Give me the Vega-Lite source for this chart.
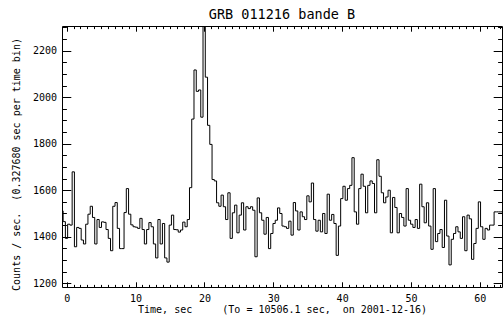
{
  "$schema": "https://vega.github.io/schema/vega-lite/v6.json",
  "autosize": "none",
  "width": 440,
  "height": 261,
  "padding": {"left": 62, "top": 26, "right": 1, "bottom": 38},
  "background": "white",
  "config": {
    "view": {"stroke": "black", "strokeWidth": 1},
    "axis": {"grid": false, "domain": false, "labelColor": "black", "titleColor": "black", "tickColor": "black", "labelFont": "DejaVu Sans Mono", "titleFont": "DejaVu Sans Mono", "labelFontSize": 10, "titleFontSize": 10, "titleFontWeight": "normal", "labelFlush": false, "labelOverlap": false, "format": "d"}
  },
  "title": {"text": "GRB 011216 bande B", "font": "DejaVu Sans Mono", "fontSize": 13.5, "fontWeight": "normal", "color": "black", "baseline": "alphabetic", "offset": -7, "anchor": "middle", "frame": "group"},
  "datasets": {
    "lc": [
      {"t": -0.680, "c": 1511}, {"t": -0.352, "c": 1465}, {"t": -0.025, "c": 1393}, {"t": 0.303, "c": 1454}, {"t": 0.631, "c": 1450},
      {"t": 0.958, "c": 1679}, {"t": 1.286, "c": 1357}, {"t": 1.614, "c": 1440}, {"t": 1.941, "c": 1436}, {"t": 2.269, "c": 1386},
      {"t": 2.597, "c": 1369}, {"t": 2.924, "c": 1454}, {"t": 3.252, "c": 1497}, {"t": 3.580, "c": 1531}, {"t": 3.908, "c": 1483},
      {"t": 4.235, "c": 1369}, {"t": 4.563, "c": 1474}, {"t": 4.891, "c": 1440}, {"t": 5.218, "c": 1464}, {"t": 5.546, "c": 1462},
      {"t": 5.874, "c": 1431}, {"t": 6.201, "c": 1393}, {"t": 6.529, "c": 1340}, {"t": 6.857, "c": 1531}, {"t": 7.184, "c": 1547},
      {"t": 7.512, "c": 1436}, {"t": 7.840, "c": 1349}, {"t": 8.167, "c": 1349}, {"t": 8.495, "c": 1504}, {"t": 8.823, "c": 1607},
      {"t": 9.150, "c": 1497}, {"t": 9.478, "c": 1451}, {"t": 9.806, "c": 1443}, {"t": 10.133, "c": 1441}, {"t": 10.461, "c": 1436},
      {"t": 10.789, "c": 1479}, {"t": 11.116, "c": 1431}, {"t": 11.444, "c": 1369}, {"t": 11.772, "c": 1431}, {"t": 12.100, "c": 1461},
      {"t": 12.427, "c": 1443}, {"t": 12.755, "c": 1369}, {"t": 13.083, "c": 1309}, {"t": 13.410, "c": 1474}, {"t": 13.738, "c": 1369},
      {"t": 14.066, "c": 1457}, {"t": 14.393, "c": 1309}, {"t": 14.721, "c": 1291}, {"t": 15.049, "c": 1450}, {"t": 15.376, "c": 1493},
      {"t": 15.704, "c": 1431}, {"t": 16.032, "c": 1430}, {"t": 16.359, "c": 1420}, {"t": 16.687, "c": 1429}, {"t": 17.015, "c": 1463},
      {"t": 17.342, "c": 1443}, {"t": 17.670, "c": 1474}, {"t": 17.998, "c": 1611}, {"t": 18.325, "c": 1906}, {"t": 18.653, "c": 2117},
      {"t": 18.981, "c": 2025}, {"t": 19.308, "c": 2031}, {"t": 19.636, "c": 1914}, {"t": 19.964, "c": 2306}, {"t": 20.292, "c": 2086},
      {"t": 20.619, "c": 1879}, {"t": 20.947, "c": 1797}, {"t": 21.275, "c": 1646}, {"t": 21.602, "c": 1640}, {"t": 21.930, "c": 1546},
      {"t": 22.258, "c": 1531}, {"t": 22.585, "c": 1579}, {"t": 22.913, "c": 1529}, {"t": 23.241, "c": 1474}, {"t": 23.568, "c": 1589},
      {"t": 23.896, "c": 1393}, {"t": 24.224, "c": 1503}, {"t": 24.551, "c": 1536}, {"t": 24.879, "c": 1417}, {"t": 25.207, "c": 1493},
      {"t": 25.534, "c": 1546}, {"t": 25.862, "c": 1429}, {"t": 26.190, "c": 1529}, {"t": 26.517, "c": 1521}, {"t": 26.845, "c": 1529},
      {"t": 27.173, "c": 1514}, {"t": 27.500, "c": 1314}, {"t": 27.828, "c": 1567}, {"t": 28.156, "c": 1503}, {"t": 28.484, "c": 1471},
      {"t": 28.811, "c": 1411}, {"t": 29.139, "c": 1483}, {"t": 29.467, "c": 1349}, {"t": 29.794, "c": 1414}, {"t": 30.122, "c": 1457},
      {"t": 30.450, "c": 1471}, {"t": 30.777, "c": 1524}, {"t": 31.105, "c": 1500}, {"t": 31.433, "c": 1446}, {"t": 31.760, "c": 1443},
      {"t": 32.088, "c": 1436}, {"t": 32.416, "c": 1467}, {"t": 32.743, "c": 1407}, {"t": 33.071, "c": 1547}, {"t": 33.399, "c": 1511},
      {"t": 33.726, "c": 1429}, {"t": 34.054, "c": 1507}, {"t": 34.382, "c": 1486}, {"t": 34.709, "c": 1474}, {"t": 35.037, "c": 1576},
      {"t": 35.365, "c": 1550}, {"t": 35.692, "c": 1631}, {"t": 36.020, "c": 1474}, {"t": 36.348, "c": 1424}, {"t": 36.676, "c": 1471},
      {"t": 37.003, "c": 1421}, {"t": 37.331, "c": 1500}, {"t": 37.659, "c": 1414}, {"t": 37.986, "c": 1583}, {"t": 38.314, "c": 1471},
      {"t": 38.642, "c": 1496}, {"t": 38.969, "c": 1457}, {"t": 39.297, "c": 1320}, {"t": 39.625, "c": 1446}, {"t": 39.952, "c": 1564},
      {"t": 40.280, "c": 1617}, {"t": 40.608, "c": 1557}, {"t": 40.935, "c": 1607}, {"t": 41.263, "c": 1621}, {"t": 41.591, "c": 1740},
      {"t": 41.918, "c": 1507}, {"t": 42.246, "c": 1454}, {"t": 42.574, "c": 1607}, {"t": 42.901, "c": 1669}, {"t": 43.229, "c": 1617},
      {"t": 43.557, "c": 1503}, {"t": 43.884, "c": 1621}, {"t": 44.212, "c": 1640}, {"t": 44.540, "c": 1629}, {"t": 44.868, "c": 1503},
      {"t": 45.195, "c": 1731}, {"t": 45.523, "c": 1660}, {"t": 45.851, "c": 1589}, {"t": 46.178, "c": 1546}, {"t": 46.506, "c": 1571},
      {"t": 46.834, "c": 1600}, {"t": 47.161, "c": 1417}, {"t": 47.489, "c": 1569}, {"t": 47.817, "c": 1526}, {"t": 48.144, "c": 1417},
      {"t": 48.472, "c": 1500}, {"t": 48.800, "c": 1483}, {"t": 49.127, "c": 1446}, {"t": 49.455, "c": 1607}, {"t": 49.783, "c": 1471},
      {"t": 50.110, "c": 1454}, {"t": 50.438, "c": 1440}, {"t": 50.766, "c": 1474}, {"t": 51.093, "c": 1436}, {"t": 51.421, "c": 1626},
      {"t": 51.749, "c": 1529}, {"t": 52.076, "c": 1460}, {"t": 52.404, "c": 1546}, {"t": 52.732, "c": 1446}, {"t": 53.060, "c": 1346},
      {"t": 53.387, "c": 1607}, {"t": 53.715, "c": 1379}, {"t": 54.043, "c": 1414}, {"t": 54.370, "c": 1431}, {"t": 54.698, "c": 1354},
      {"t": 55.026, "c": 1557}, {"t": 55.353, "c": 1403}, {"t": 55.681, "c": 1279}, {"t": 56.009, "c": 1389}, {"t": 56.336, "c": 1414},
      {"t": 56.664, "c": 1443}, {"t": 56.992, "c": 1421}, {"t": 57.319, "c": 1393}, {"t": 57.647, "c": 1486}, {"t": 57.975, "c": 1340},
      {"t": 58.302, "c": 1493}, {"t": 58.630, "c": 1477}, {"t": 58.958, "c": 1303}, {"t": 59.285, "c": 1371}, {"t": 59.613, "c": 1436},
      {"t": 59.941, "c": 1550}, {"t": 60.268, "c": 1443}, {"t": 60.596, "c": 1389}, {"t": 60.924, "c": 1436}, {"t": 61.252, "c": 1429},
      {"t": 61.579, "c": 1450}, {"t": 61.907, "c": 1450}, {"t": 62.235, "c": 1507}, {"t": 62.562, "c": 1507}, {"t": 62.890, "c": 1507},
      {"t": 63.218, "c": 1507}
    ]
  },
  "data": {"name": "lc"},
  "resolve": {"axis": {"x": "independent", "y": "independent"}},
  "layer": [
    {
      "mark": {"type": "line", "interpolate": "step", "color": "black", "strokeWidth": 1, "clip": true},
      "encoding": {
        "x": {"field": "t", "type": "quantitative", "scale": {"domain": [-0.68, 63.218], "nice": false, "zero": false},
          "axis": {"orient": "bottom", "values": [0, 10, 20, 30, 40, 50, 60], "ticks": false, "labelPadding": 6, "format": "d",
            "title": "Time, sec\u00a0\u00a0\u00a0\u00a0\u00a0(To = 10506.1 sec,\u00a0\u00a0on 2001-12-16)", "titleBaseline": "alphabetic", "titleY": 25}},
        "y": {"field": "c", "type": "quantitative", "scale": {"domain": [1184, 2306], "nice": false, "zero": false},
          "axis": {"orient": "left", "values": [1200, 1400, 1600, 1800, 2000, 2200], "ticks": false, "labelPadding": 5.5, "format": "d",
            "title": "Counts / sec.\u00a0\u00a0(0.327680 sec per time bin)", "titleX": -43, "titleY": 138, "titleBaseline": "alphabetic"}}
      }
    },
    {
      "mark": {"type": "line", "interpolate": "step", "strokeOpacity": 0},
      "encoding": {
        "x": {"field": "t", "type": "quantitative", "scale": {"domain": [-0.68, 63.218], "nice": false, "zero": false},
          "axis": {"orient": "bottom", "values": [0, 10, 20, 30, 40, 50, 60], "labels": false, "ticks": true, "tickSize": -5.2, "tickWidth": 1, "title": null}},
        "y": {"field": "c", "type": "quantitative", "scale": {"domain": [1184, 2306], "nice": false, "zero": false},
          "axis": {"orient": "left", "values": [1200, 1400, 1600, 1800, 2000, 2200], "labels": false, "ticks": true, "tickSize": -8.8, "tickWidth": 1, "title": null}}
      }
    },
    {
      "mark": {"type": "line", "interpolate": "step", "strokeOpacity": 0},
      "encoding": {
        "x": {"field": "t", "type": "quantitative", "scale": {"domain": [-0.68, 63.218], "nice": false, "zero": false},
          "axis": {"orient": "bottom", "values": [0,1,2,3,4,5,6,7,8,9,10,11,12,13,14,15,16,17,18,19,20,21,22,23,24,25,26,27,28,29,30,31,32,33,34,35,36,37,38,39,40,41,42,43,44,45,46,47,48,49,50,51,52,53,54,55,56,57,58,59,60,61,62,63], "labels": false, "ticks": true, "tickSize": -2.6, "tickWidth": 1, "title": null}},
        "y": {"field": "c", "type": "quantitative", "scale": {"domain": [1184, 2306], "nice": false, "zero": false},
          "axis": {"orient": "left", "values": [1200,1250,1300,1350,1400,1450,1500,1550,1600,1650,1700,1750,1800,1850,1900,1950,2000,2050,2100,2150,2200,2250,2300], "labels": false, "ticks": true, "tickSize": -4.4, "tickWidth": 1, "title": null}}
      }
    },
    {
      "mark": {"type": "line", "interpolate": "step", "strokeOpacity": 0},
      "encoding": {
        "x": {"field": "t", "type": "quantitative", "scale": {"domain": [-0.68, 63.218], "nice": false, "zero": false},
          "axis": {"orient": "top", "values": [0, 10, 20, 30, 40, 50, 60], "labels": false, "ticks": true, "tickSize": -5.2, "tickWidth": 1, "title": null}},
        "y": {"field": "c", "type": "quantitative", "scale": {"domain": [1184, 2306], "nice": false, "zero": false},
          "axis": {"orient": "right", "values": [1200, 1400, 1600, 1800, 2000, 2200], "labels": false, "ticks": true, "tickSize": -8.8, "tickWidth": 1, "title": null}}
      }
    },
    {
      "mark": {"type": "line", "interpolate": "step", "strokeOpacity": 0},
      "encoding": {
        "x": {"field": "t", "type": "quantitative", "scale": {"domain": [-0.68, 63.218], "nice": false, "zero": false},
          "axis": {"orient": "top", "values": [0,1,2,3,4,5,6,7,8,9,10,11,12,13,14,15,16,17,18,19,20,21,22,23,24,25,26,27,28,29,30,31,32,33,34,35,36,37,38,39,40,41,42,43,44,45,46,47,48,49,50,51,52,53,54,55,56,57,58,59,60,61,62,63], "labels": false, "ticks": true, "tickSize": -2.6, "tickWidth": 1, "title": null}},
        "y": {"field": "c", "type": "quantitative", "scale": {"domain": [1184, 2306], "nice": false, "zero": false},
          "axis": {"orient": "right", "values": [1200,1250,1300,1350,1400,1450,1500,1550,1600,1650,1700,1750,1800,1850,1900,1950,2000,2050,2100,2150,2200,2250,2300], "labels": false, "ticks": true, "tickSize": -4.4, "tickWidth": 1, "title": null}}
      }
    }
  ]
}
